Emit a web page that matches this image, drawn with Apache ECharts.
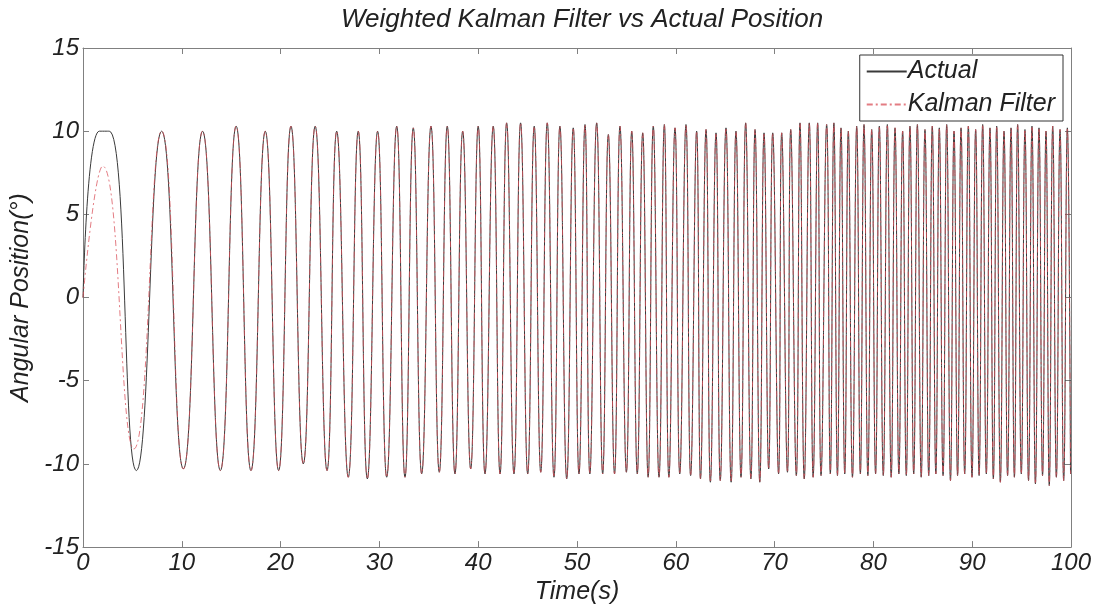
<!DOCTYPE html>
<html>
<head>
<meta charset="utf-8">
<script src="https://cdn.jsdelivr.net/npm/echarts@6/dist/echarts.min.js"></script>
<style>
  html, body { margin: 0; padding: 0; background: #fff; }
  #chart { width: 1102px; height: 610px; }
</style>
</head>
<body>
<div id="chart"></div>
<script>
// first half-cycle differs between the two traces
const actualStart = [[0, 0], [1.65, 10], [2.66, 10], [5.4, -10.4]];
const kalmanStart = [[0, 0], [2.0, 7.9], [5.15, -9.1]];

// extrema (shared by both traces after the first cycle)
const peakTimes = [
  7.96, 12.1, 15.5, 18.45, 21.05, 23.5, 25.68, 27.86, 29.82, 31.75,
  33.43, 35.22, 36.87, 38.43, 40.0, 41.52, 42.88, 44.29, 45.67, 46.99,
  48.27, 49.62, 50.81, 51.99, 53.17, 54.35, 55.54, 56.65, 57.72, 58.84,
  59.92, 61.03, 62.11, 63.06, 64.07, 65.08, 66.09, 67.07, 68.02, 68.93,
  69.81, 70.72, 71.63, 72.57, 73.51, 74.36, 75.27, 76.0, 76.72, 77.46,
  78.31, 79.05, 79.83, 80.6, 81.41, 82.19, 82.96, 83.7, 84.45, 85.22,
  85.96, 86.67, 87.42, 88.16, 88.87, 89.61, 90.35, 91.06, 91.8, 92.48,
  93.22, 93.93, 94.6, 95.34, 96.05, 96.76, 97.47, 98.15, 98.89, 99.63
];
const peakValues = [
  10.0, 10.0, 10.3, 10.0, 10.3, 10.3, 10.0, 10.0, 10.0, 10.3,
  10.2, 10.3, 10.3, 10.0, 10.3, 10.3, 10.5, 10.5, 10.3, 10.5,
  10.3, 10.2, 10.4, 10.5, 9.8, 10.3, 10.0, 9.9, 10.3, 10.4,
  10.2, 10.4, 10.0, 10.1, 9.9, 10.2, 10.0, 10.5, 10.1, 9.9,
  9.9, 9.9, 10.1, 10.5, 10.5, 10.5, 10.4, 10.5, 10.2, 10.0,
  10.3, 10.4, 10.1, 10.3, 10.4, 10.2, 10.0, 10.3, 10.4, 10.1,
  10.3, 10.2, 10.4, 10.0, 10.2, 10.3, 10.1, 10.4, 10.2, 10.3,
  10.0, 10.2, 10.4, 10.1, 10.3, 10.2, 10.0, 10.3, 10.1, 10.2
];
const troughTimes = [
  10.16, 13.9, 17.0, 19.8, 22.3, 24.7, 26.85, 28.78, 30.74, 32.59,
  34.28, 36.06, 37.65, 39.24, 40.69, 42.21, 43.62, 45.01, 46.33, 47.67,
  48.96, 50.2, 51.3, 52.6, 53.8, 55.0, 56.1, 57.2, 58.3, 59.3,
  60.4, 61.5, 62.5, 63.5, 64.5, 65.6, 66.6, 67.6, 68.5, 69.4,
  70.4, 71.3, 72.2, 73.0, 73.9, 74.7, 75.64, 76.36, 77.1, 77.88,
  78.68, 79.44, 80.22, 81.0, 81.8, 82.58, 83.33, 84.08, 84.84, 85.6,
  86.32, 87.05, 87.8, 88.52, 89.24, 89.98, 90.7, 91.43, 92.14, 92.85,
  93.58, 94.27, 94.97, 95.7, 96.4, 97.12, 97.8, 98.52, 99.26, 99.95
];
const troughValues = [
  -10.3, -10.4, -10.4, -10.4, -10.0, -10.4, -10.8, -10.9, -10.8, -10.8,
  -10.6, -10.5, -10.6, -10.3, -10.6, -10.6, -10.6, -10.6, -10.5, -10.8,
  -10.9, -10.6, -10.6, -10.6, -10.6, -10.5, -10.6, -10.8, -10.8, -10.8,
  -10.6, -10.7, -10.9, -11.1, -11.0, -11.1, -10.8, -10.9, -11.1, -10.3,
  -10.6, -10.5, -10.7, -10.9, -10.8, -10.7, -10.6, -10.7, -10.6, -10.8,
  -10.6, -10.7, -10.6, -10.7, -10.8, -10.6, -10.7, -10.6, -10.8, -10.7,
  -10.6, -10.7, -11.0, -10.7, -10.6, -10.8, -10.7, -10.6, -10.9, -11.1,
  -10.7, -10.8, -10.6, -11.0, -11.2, -10.7, -11.3, -10.8, -11.0, -10.6
];

const xTicks = [0, 100, 10];
const yTicks = [-15, 15, 5];

function extrema() {
  const pts = [];
  peakTimes.forEach((t, i) => pts.push([t, peakValues[i]]));
  troughTimes.forEach((t, i) => pts.push([t, troughValues[i]]));
  pts.sort((a, b) => a[0] - b[0]);
  return pts;
}

const font = "'Liberation Sans', Arial, sans-serif";
const tail = extrema();

const chart = echarts.init(document.getElementById("chart"));

const axisCommon = {
  axisLine: { show: true, onZero: false, lineStyle: { color: "#808080", width: 1 } },
  axisTick: { show: true, inside: true, length: 6, lineStyle: { color: "#808080" } },
  splitLine: { show: false },
};

chart.setOption({
  animation: false,
  backgroundColor: "#fff",
  title: {
    text: "Weighted Kalman Filter vs Actual Position",
    left: 336,
    top: 2,
    textStyle: { fontFamily: font, fontStyle: "italic", fontWeight: "normal", fontSize: 26, color: "#222" },
  },
  legend: {
    orient: "vertical",
    right: 39,
    top: 55,
    padding: [4, 8, 4, 6],
    itemGap: 8,
    itemWidth: 40,
    itemHeight: 14,
    backgroundColor: "#fff",
    borderColor: "#333",
    borderWidth: 1,
    borderRadius: 0,
    itemStyle: { opacity: 0 },
    textStyle: { fontFamily: font, fontStyle: "italic", fontSize: 25, color: "#222", padding: [0, 0, 0, -4] },
    data: ["Actual", "Kalman Filter"],
  },
  grid: { left: 83, right: 31, top: 48, bottom: 62 },
  xAxis: [
    Object.assign({}, axisCommon, {
      type: "value", min: xTicks[0], max: xTicks[1], interval: xTicks[2],
      name: "Time(s)", nameLocation: "middle", nameGap: 32,
      nameTextStyle: { fontFamily: font, fontStyle: "italic", fontSize: 25, color: "#222" },
      axisLabel: { fontFamily: font, fontStyle: "italic", fontSize: 24, color: "#222", margin: 4 },
    }),
    Object.assign({}, axisCommon, {
      type: "value", position: "top", min: xTicks[0], max: xTicks[1], interval: xTicks[2],
      axisLabel: { show: false },
    }),
  ],
  yAxis: [
    Object.assign({}, axisCommon, {
      type: "value", min: yTicks[0], max: yTicks[1], interval: yTicks[2],
      name: "Angular Position(°)", nameLocation: "middle", nameGap: 48,
      nameTextStyle: { fontFamily: font, fontStyle: "italic", fontSize: 25, color: "#222" },
      axisLabel: { fontFamily: font, fontStyle: "italic", fontSize: 24, color: "#222", margin: 4 },
    }),
    Object.assign({}, axisCommon, {
      type: "value", position: "right", min: yTicks[0], max: yTicks[1], interval: yTicks[2],
      axisLabel: { show: false },
    }),
  ],
  series: [
    {
      name: "Actual",
      type: "line",
      data: actualStart.concat(tail),
      smooth: 0.5,
      showSymbol: false,
      symbol: "none",
      lineStyle: { color: "#3a3a3a", width: 1 },
      itemStyle: { color: "#3a3a3a" },
    },
    {
      name: "Kalman Filter",
      type: "line",
      data: kalmanStart.concat(tail),
      smooth: 0.5,
      showSymbol: false,
      symbol: "none",
      lineStyle: { color: "#d9505a", width: 1, type: [6, 3, 2, 3], opacity: 0.75 },
      itemStyle: { color: "#d9505a" },
    },
  ],
});
</script>
</body>
</html>
